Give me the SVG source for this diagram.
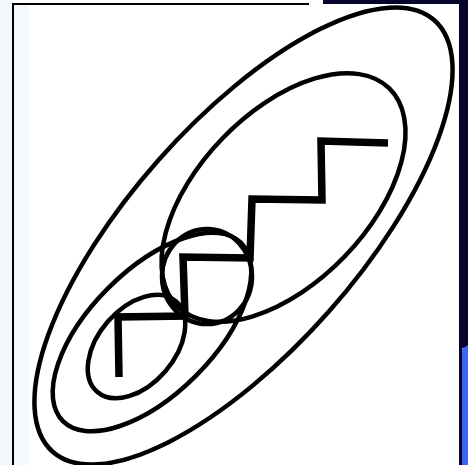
<svg xmlns="http://www.w3.org/2000/svg" width="468" height="465" viewBox="0 0 468 465">
<style>
.ln{fill:none;stroke:#000;stroke-width:4.5}
.st{fill:none;stroke:#000;stroke-width:7.5;stroke-linejoin:miter;stroke-linecap:butt}
</style>
<rect x="0" y="0" width="468" height="465" fill="#ffffff"/>
<rect x="0" y="0" width="12" height="465" fill="#f2f7fc"/>
<rect x="14" y="5" width="15" height="460" fill="#f4f9fe"/>
<rect x="12" y="3" width="2" height="462" fill="#000"/>
<rect x="12" y="3" width="297" height="2" fill="#000"/>
<rect x="323" y="0" width="145" height="4" fill="#05052c"/>
<rect x="459" y="0" width="9" height="348" fill="#05052c"/>
<rect x="459" y="346" width="3" height="119" fill="#05052c"/>
<polygon points="462,349 468,345 468,465 462,465" fill="#3b63f5"/>
<g id="outer-ellipse"><ellipse class="ln" cx="243.5" cy="236" rx="288" ry="114" transform="rotate(-48.5 243.5 236)"/></g>
<g id="upper-ellipse"><ellipse class="ln" cx="283.5" cy="197.5" rx="152" ry="85" transform="rotate(-46 283.5 197.5)"/></g>
<g id="middle-ellipse"><ellipse class="ln" cx="152" cy="332" rx="126" ry="62" transform="rotate(-45 152 332)"/></g>
<g id="middle-circle"><ellipse class="ln" cx="207" cy="276.5" rx="45" ry="47.5"/></g>
<g id="small-ellipse"><ellipse class="ln" cx="136.5" cy="346.5" rx="60" ry="38" transform="rotate(-49 136.5 346.5)"/></g>
<g id="stairs"><polyline class="st" points="119,377 118,317 185,316 183,257 250,258 252,199 322,200 321,141 388,143"/></g>
</svg>
